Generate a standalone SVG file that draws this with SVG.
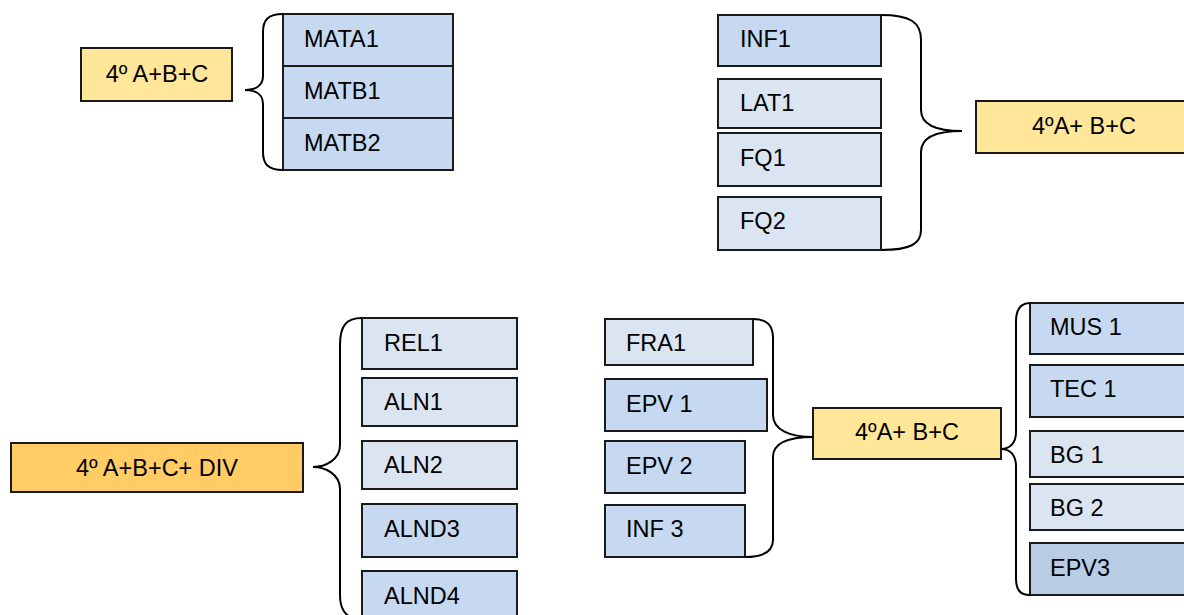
<svg xmlns="http://www.w3.org/2000/svg" width="1184" height="615" viewBox="0 0 1184 615">
<style>
.box{stroke:#1a1a1a;stroke-width:2}
.dk{fill:#C6D9F0}
.lt{fill:#DBE5F1}
.d2{fill:#B8CCE4}
.yl{fill:#FFE699}
.or{fill:#FFCC66}
text{font-family:"Liberation Sans",Arial,sans-serif;font-size:23.5px;fill:#000}
.c{text-anchor:middle}
.br{fill:none;stroke:#000;stroke-width:2}
</style>
<rect width="1184" height="615" fill="#fff"/>
<g id="y1"><rect class="box yl" x="81" y="48" width="151" height="53"/><text class="c" x="157" y="82">4º A+B+C</text></g>
<g id="mata1"><rect class="box dk" x="283" y="14" width="170" height="52"/><text x="304" y="47">MATA1</text></g>
<g id="matb1"><rect class="box dk" x="283" y="66" width="170" height="52"/><text x="304" y="99">MATB1</text></g>
<g id="matb2"><rect class="box dk" x="283" y="118" width="170" height="52"/><text x="304" y="151">MATB2</text></g>
<g id="inf1"><rect class="box dk" x="718" y="15" width="163" height="51"/><text x="740" y="47">INF1</text></g>
<g id="lat1"><rect class="box lt" x="718" y="79" width="163" height="49"/><text x="740" y="111">LAT1</text></g>
<g id="fq1"><rect class="box lt" x="718" y="133" width="163" height="53"/><text x="740" y="166">FQ1</text></g>
<g id="fq2"><rect class="box lt" x="718" y="197" width="163" height="53"/><text x="740" y="229">FQ2</text></g>
<g id="y2"><rect class="box yl" x="976" y="101" width="215" height="52"/><text class="c" x="1084" y="134">4ºA+ B+C</text></g>
<g id="y4"><rect class="box or" x="11" y="443" width="292" height="49"/><text class="c" x="157" y="476">4º A+B+C+ DIV</text></g>
<g id="rel1"><rect class="box lt" x="362" y="318" width="155" height="51"/><text x="384" y="351">REL1</text></g>
<g id="aln1"><rect class="box lt" x="362" y="378" width="155" height="48"/><text x="384" y="410">ALN1</text></g>
<g id="aln2"><rect class="box lt" x="362" y="441" width="155" height="48"/><text x="384" y="473">ALN2</text></g>
<g id="alnd3"><rect class="box dk" x="362" y="504" width="155" height="53"/><text x="384" y="537">ALND3</text></g>
<g id="alnd4"><rect class="box dk" x="362" y="571" width="155" height="53"/><text x="384" y="604">ALND4</text></g>
<g id="fra1"><rect class="box lt" x="605" y="319" width="148" height="46"/><text x="626" y="351">FRA1</text></g>
<g id="epv1"><rect class="box dk" x="605" y="379" width="162" height="52"/><text x="626" y="412">EPV 1</text></g>
<g id="epv2"><rect class="box dk" x="605" y="441" width="140" height="52"/><text x="626" y="474">EPV 2</text></g>
<g id="inf3"><rect class="box dk" x="605" y="505" width="140" height="52"/><text x="626" y="537">INF 3</text></g>
<g id="y3"><rect class="box yl" x="813" y="408" width="188" height="51"/><text class="c" x="907" y="440">4ºA+ B+C</text></g>
<g id="mus1"><rect class="box dk" x="1030" y="303" width="160" height="51"/><text x="1050" y="335">MUS 1</text></g>
<g id="tec1"><rect class="box dk" x="1030" y="365" width="160" height="52"/><text x="1050" y="397">TEC 1</text></g>
<g id="bg1"><rect class="box lt" x="1030" y="431" width="160" height="46"/><text x="1050" y="463">BG 1</text></g>
<g id="bg2"><rect class="box lt" x="1030" y="484" width="160" height="46"/><text x="1050" y="516">BG 2</text></g>
<g id="epv3"><rect class="box d2" x="1030" y="543" width="160" height="52"/><text x="1050" y="576">EPV3</text></g>
<g id="connectors">
<path class="br" d="M283,14 C268,14 263,20 263,32 L263,76 C263,86 255,90 245,90 C255,90 263,94 263,104 L263,152 C263,164 268,170 283,170"/>
<path class="br" d="M881,15 C910,15 921,22 921,40 L921,110 C921,126 940,131 962,131 C940,131 921,136 921,152 L921,230 C921,244 910,250 881,250"/>
<path class="br" d="M362,318 C346,318 340,326 340,345 L340,445 C340,460 325,467 313,467 C325,467 340,474 340,489 L340,595 C340,610 346,615 352,618"/>
<path class="br" d="M753,319 C768,319 773,326 773,338 L773,415 C773,430 790,437 813,437 C790,437 773,442 773,457 L773,540 C773,552 762,557 745,557"/>
<path class="br" d="M1030,303 C1020,303 1016,310 1016,322 L1016,432 C1016,443 1010,449 1001,449 C1010,449 1016,455 1016,466 L1016,578 C1016,590 1020,595 1030,595"/>
</g>
</svg>
